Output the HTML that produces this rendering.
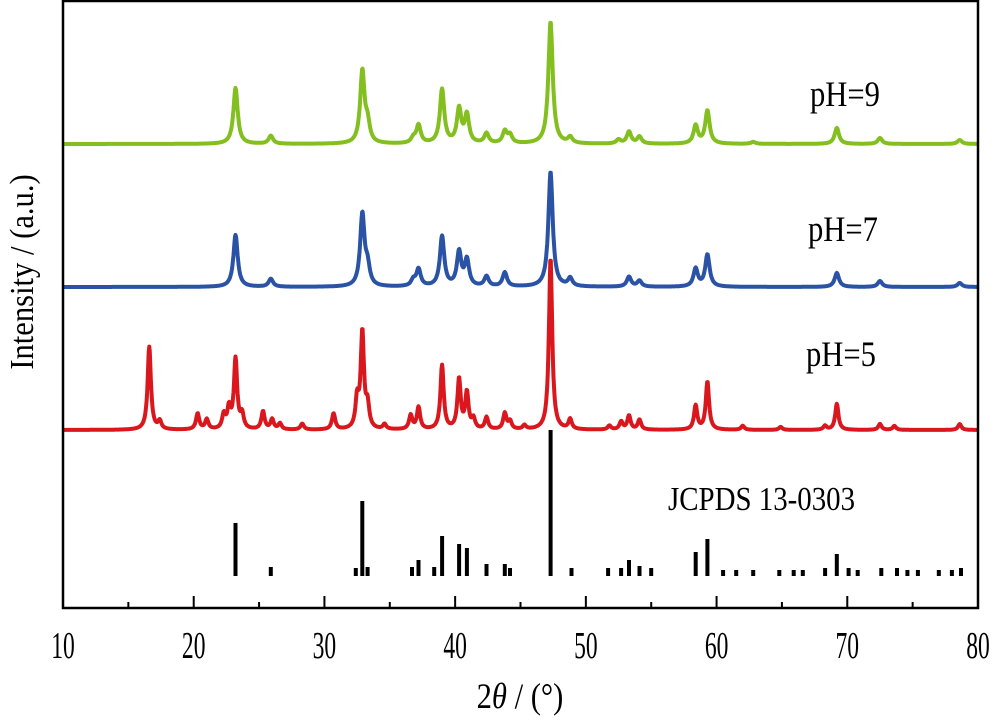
<!DOCTYPE html>
<html><head><meta charset="utf-8"><style>
body{margin:0;background:#fff;}
svg text{font-family:"Liberation Serif",serif;fill:#000;}
</style></head><body>
<svg id="chart" width="1000" height="716" viewBox="0 0 1000 716" xmlns="http://www.w3.org/2000/svg">
<g id="series"></g>
<rect x="63" y="1" width="915" height="607" fill="none" stroke="#000" stroke-width="2.5"/>
<g id="axis"></g>
<text transform="translate(810,106) scale(0.85,1)" font-size="36">pH=9</text>
<text transform="translate(808,241) scale(0.85,1)" font-size="36">pH=7</text>
<text transform="translate(806,366) scale(0.85,1)" font-size="36">pH=5</text>
<text transform="translate(668,510) scale(0.85,1)" font-size="34">JCPDS 13-0303</text>
<text transform="translate(33,272) rotate(-90) scale(0.9,1)" text-anchor="middle" font-size="34">Intensity / (a.u.)</text>
<text transform="translate(520,708) scale(0.85,1)" text-anchor="middle" font-size="36">2<tspan font-style="italic">θ</tspan> / (°)</text>
</svg>
<script>
const xTicks=[10,20,30,40,50,60,70,80];
const ph9Pos=[23.2,25.9,32.9,33.3,36.8,37.2,39.0,40.3,40.9,42.4,43.8,44.2,47.3,48.8,52.5,53.3,54.1,58.4,59.3,62.8,69.2,72.5,78.6];
const ph9Int=[56,8,72,18,5,18,54,34,28,10,12,8,122,6,4,12,7,18,33,2,16,6,4];
const ph7Pos=[23.2,25.9,32.9,33.3,36.8,37.2,39.0,40.3,40.9,42.4,43.8,47.3,48.8,53.3,54.1,58.4,59.3,69.2,72.5,78.6];
const ph7Int=[52,8,72,18,6,17,50,34,26,10,14,115,8,10,6,18,32,14,6,4];
const ph5Pos=[16.6,17.4,20.3,21.0,22.3,22.7,23.2,23.7,25.3,26.0,26.6,28.3,30.7,32.5,32.9,33.3,34.6,36.6,37.2,39.0,40.3,40.9,41.4,42.4,43.8,44.2,45.3,47.3,48.8,51.8,52.7,53.3,54.1,58.4,59.3,62.0,64.9,68.3,69.2,72.5,73.6,78.6];
const ph5Int=[83,8,16,10,14,20,70,14,18,10,6,6,16,28,96,22,5,14,22,64,50,36,10,12,16,8,4,172,10,4,8,14,10,24,48,4,3,4,26,6,4,6];
const refPos=[23.2,25.9,32.4,32.9,33.3,36.7,37.2,38.4,39.0,40.3,40.9,42.4,43.8,44.2,47.3,48.9,51.7,52.7,53.3,54.1,55.0,58.4,59.3,60.5,61.5,62.8,64.8,65.9,66.6,68.3,69.2,70.1,70.8,72.6,73.8,74.6,75.4,77.0,78.0,78.7];
const refInt=[53,9,8,75,9,9,16,9,40,32,28,12,12,8,146,8,8,8,16,10,8,24,37,6,6,6,6,6,6,8,22,8,6,8,8,6,6,6,6,8];
const NS="http://www.w3.org/2000/svg";
const xs=v=>63+(v-10)*(915/70);
const gS=document.getElementById('series'),gA=document.getElementById('axis');
function pattern(pos,ints,base,color,name,w){
  let d="";
  for(let t=10;t<=80.001;t+=0.04){
    let y=0;
    for(let i=0;i<pos.length;i++){const u=(t-pos[i])/w;y+=ints[i]/(1+u*u);}
    d+=(d?"L":"M")+xs(t).toFixed(1)+","+(base-y).toFixed(1);
  }
  const p=document.createElementNS(NS,'path');
  p.setAttribute('d',d);p.setAttribute('fill','none');p.setAttribute('stroke',color);p.setAttribute('stroke-width','4');p.setAttribute('stroke-linejoin','round');
  
  
  gS.appendChild(p);
}
pattern(ph9Pos,ph9Int,144,'#83bf1f','series-ph9',0.2);
pattern(ph7Pos,ph7Int,287,'#2a53a6','series-ph7',0.2);
pattern(ph5Pos,ph5Int,430,'#d9171d','series-ph5',0.15);
for(let i=0;i<refPos.length;i++){
  const r=document.createElementNS(NS,'rect');
  r.setAttribute('x',(xs(refPos[i])-2).toFixed(1));r.setAttribute('y',576-refInt[i]);r.setAttribute('width',4);r.setAttribute('height',refInt[i]);r.setAttribute('fill','#000');
  
  
  gS.appendChild(r);
}
for(let v=15;v<80;v+=5){
  const major=xTicks.includes(v);
  const l=document.createElementNS(NS,'line');
  l.setAttribute('x1',xs(v));l.setAttribute('x2',xs(v));l.setAttribute('y1',608);l.setAttribute('y2',major?596:602);l.setAttribute('stroke','#000');l.setAttribute('stroke-width','2');
  
  
  gA.appendChild(l);
}
xTicks.forEach(v=>{
  const t=document.createElementNS(NS,'text');
  t.setAttribute('transform','translate('+xs(v).toFixed(1)+',658) scale(0.62,1)');
  t.setAttribute('text-anchor','middle');t.setAttribute('font-size','38');
  t.textContent=v;
  
  
  gA.appendChild(t);
});
</script>
</body></html>
